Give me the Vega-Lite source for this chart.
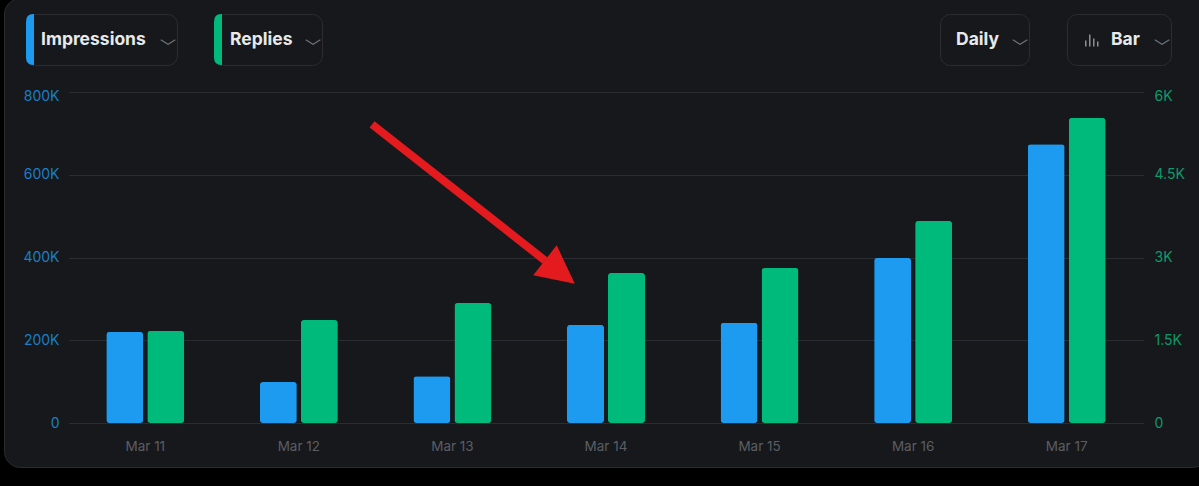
{
  "$schema": "https://vega.github.io/schema/vega-lite/v6.json",
  "width": 1204,
  "height": 469,
  "padding": {"left": 4, "top": -2, "right": 0, "bottom": 19},
  "autosize": "none",
  "background": "#000000",
  "view": {"fill": "#16181c", "stroke": "#2b2d32", "cornerRadius": 16},
  "config": {
    "font": "Inter",
    "axis": {"grid": false, "domain": false, "ticks": false, "labelFont": "Inter", "labelFontSize": 14, "title": null},
    "legend": {
      "orient": "none",
      "direction": "horizontal",
      "fillColor": "#16181c",
      "strokeColor": "#2b2d32",
      "cornerRadius": 10,
      "labelColor": "#e7e9ea",
      "labelFont": "Inter",
      "labelFontSize": 17.5,
      "labelFontWeight": 700,
      "titleFont": "Noto Sans CJK SC",
      "titleColor": "#71767b",
      "titleFontSize": 16,
      "titleFontWeight": 400,
      "titleOrient": "right",
      "titleAnchor": "middle",
      "titleBaseline": "top",
      "titlePadding": 14,
      "labelOffset": -36,
      "padding": 0,
      "symbolSize": 2601,
      "symbolStrokeWidth": 0
    }
  },
  "datasets": {
    "daily": [
      {"date": "Mar 11", "impressions": 220000, "replies": 1668},
      {"date": "Mar 12", "impressions": 99000, "replies": 1867},
      {"date": "Mar 13", "impressions": 113000, "replies": 2175},
      {"date": "Mar 14", "impressions": 237000, "replies": 2719},
      {"date": "Mar 15", "impressions": 242000, "replies": 2810},
      {"date": "Mar 16", "impressions": 399000, "replies": 3662},
      {"date": "Mar 17", "impressions": 674000, "replies": 5529}
    ],
    "arrow_shaft": [
      {"day": 12.48, "value": 722000},
      {"day": 13.606, "value": 392750}
    ],
    "arrow_head": [
      {"day": 13.703, "value": 364950}
    ]
  },
  "resolve": {"scale": {"x": "independent", "y": "independent", "color": "independent"}},
  "layer": [
    {
      "data": {"name": "daily"},
      "transform": [{"calculate": "'Impressions'", "as": "metric"}],
      "mark": {"type": "bar", "width": 37, "xOffset": -20.5, "cornerRadius": 3},
      "encoding": {
        "x": {
          "field": "date",
          "type": "nominal",
          "sort": null,
          "scale": {"range": [64.5, 1139.5], "paddingInner": 0, "paddingOuter": 0},
          "axis": {"offset": -44, "labelColor": "#5b5e63", "labelAngle": 0, "labelPadding": 16, "labelFontSize": 13.5}
        },
        "y": {
          "field": "impressions",
          "type": "quantitative",
          "scale": {"domain": [0, 800000], "range": [425, 94], "nice": false},
          "axis": {
            "orient": "left",
            "offset": -64,
            "grid": true,
            "gridColor": "#2b2d32",
            "values": [0, 200000, 400000, 600000, 800000],
            "labelExpr": "datum.value === 0 ? '0' : datum.value / 1000 + 'K'",
            "labelColor": "#1a7fc4",
            "labelPadding": 9,
            "labelOffset": {"condition": {"test": "datum.value === 800000", "value": 4}, "value": 0}
          }
        },
        "color": {
          "field": "metric",
          "type": "nominal",
          "scale": {"domain": ["Impressions"], "range": ["#1d9bf0"]},
          "legend": {"title": "﹀\u00a0\u00a0\u00a0\u00a0\u00a0", "legendX": 22, "legendY": 16, "symbolType": "M-0.686,-1 L-0.686,1 L-0.72,1 Q-1,1 -1,0.7 L-1,-0.7 Q-1,-1 -0.72,-1 Z"}
        }
      }
    },
    {
      "data": {"name": "daily"},
      "transform": [{"calculate": "'Replies'", "as": "metric"}],
      "mark": {"type": "bar", "width": 37, "xOffset": 20.5, "cornerRadius": 3},
      "encoding": {
        "x": {
          "field": "date",
          "type": "nominal",
          "sort": null,
          "scale": {"range": [64.5, 1139.5], "paddingInner": 0, "paddingOuter": 0},
          "axis": null
        },
        "y": {
          "field": "replies",
          "type": "quantitative",
          "scale": {"domain": [0, 6000], "range": [425, 94], "nice": false},
          "axis": {
            "orient": "right",
            "offset": -65,
            "values": [0, 1500, 3000, 4500, 6000],
            "labelExpr": "datum.value === 0 ? '0' : datum.value / 1000 + 'K'",
            "labelColor": "#0f9a69",
            "labelPadding": 11,
            "labelOffset": {"condition": {"test": "datum.value === 6000", "value": 4}, "value": 0}
          }
        },
        "color": {
          "field": "metric",
          "type": "nominal",
          "scale": {"domain": ["Replies"], "range": ["#00ba7c"]},
          "legend": {"title": "﹀\u00a0\u00a0\u00a0\u00a0\u00a0", "legendX": 210, "legendY": 16, "labelOffset": -35, "titlePadding": 13, "symbolType": "M-0.686,-1 L-0.686,1 L-0.72,1 Q-1,1 -1,0.7 L-1,-0.7 Q-1,-1 -0.72,-1 Z"}
        }
      }
    },
    {
      "data": {"name": "daily"},
      "transform": [{"calculate": "'Daily'", "as": "control"}],
      "mark": {"type": "point", "filled": true, "opacity": 0},
      "encoding": {
        "color": {
          "field": "control",
          "type": "nominal",
          "scale": {"domain": ["Daily"], "range": ["transparent"]},
          "legend": {"title": "﹀\u00a0\u00a0\u00a0\u00a0\u00a0", "legendX": 936, "legendY": 16, "labelOffset": -35, "titlePadding": 13, "symbolOpacity": 0}
        }
      }
    },
    {
      "data": {"name": "daily"},
      "transform": [{"calculate": "'Bar'", "as": "control"}],
      "mark": {"type": "point", "filled": true, "opacity": 0},
      "encoding": {
        "color": {
          "field": "control",
          "type": "nominal",
          "scale": {"domain": ["Bar"], "range": ["#8b8f94"]},
          "legend": {
            "title": "﹀\u00a0\u00a0\u00a0\u00a0\u00a0",
            "legendX": 1063,
            "legendY": 16,
            "symbolOpacity": 1,
            "labelOffset": -7,
            "symbolType": "M-0.294,0.27 L-0.294,0.04 L-0.235,0.04 L-0.235,0.27 Z M-0.137,0.27 L-0.137,-0.196 L-0.078,-0.196 L-0.078,0.27 Z M0.02,0.27 L0.02,-0.04 L0.078,-0.04 L0.078,0.27 Z M0.176,0.27 L0.176,0.08 L0.235,0.08 L0.235,0.27 Z M-1,-1 Z M1,1 Z"
          }
        }
      }
    },
    {
      "data": {"name": "arrow_shaft"},
      "mark": {"type": "line", "color": "#e31b1e", "strokeWidth": 8, "strokeCap": "butt"},
      "encoding": {
        "x": {"field": "day", "type": "quantitative", "scale": {"domain": [10.5, 17.5], "range": [64, 1139], "nice": false, "zero": false}, "axis": null},
        "y": {"field": "value", "type": "quantitative", "scale": {"domain": [0, 800000], "range": [425, 94], "nice": false}, "axis": null}
      }
    },
    {
      "data": {"name": "arrow_head"},
      "mark": {"type": "point", "filled": true, "opacity": 1, "color": "#e31b1e", "shape": "M0,-1 L-1,1 L1,1 Z", "size": 1444, "angle": 128.2},
      "encoding": {
        "x": {"field": "day", "type": "quantitative", "scale": {"domain": [10.5, 17.5], "range": [64, 1139], "nice": false, "zero": false}, "axis": null},
        "y": {"field": "value", "type": "quantitative", "scale": {"domain": [0, 800000], "range": [425, 94], "nice": false}, "axis": null}
      }
    }
  ]
}
